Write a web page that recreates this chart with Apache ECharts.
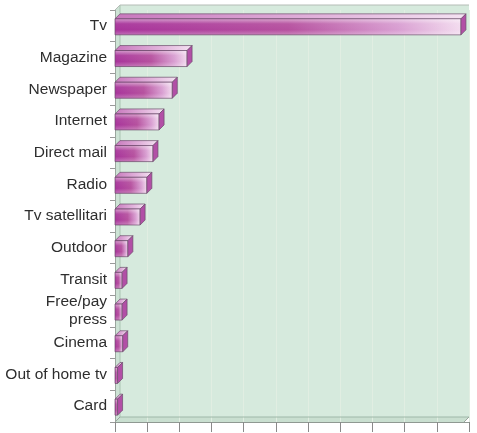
<!DOCTYPE html>
<html>
<head>
<meta charset="utf-8">
<script src="https://cdn.jsdelivr.net/npm/echarts@6/dist/echarts.min.js"></script>
<style>
html,body{margin:0;padding:0;background:#fff;}
#chart{width:477px;height:433px;}
</style>
</head>
<body>
<div id="chart"></div>
<script>
const categories = ['Tv','Magazine','Newspaper','Internet','Direct mail','Radio','Tv satellitari','Outdoor','Transit','Free/pay\npress','Cinema','Out of home tv','Card'];
const values = [10.75, 2.24, 1.78, 1.37, 1.18, 0.99, 0.78, 0.40, 0.22, 0.22, 0.24, 0.08, 0.08];
const axisMin = 0, axisMax = 11, axisInterval = 1;

const W = 477, H = 433;
const GL = 115, GR = 469, GT = 10, GB = 422, D = 5;

const chart = echarts.init(document.getElementById('chart'), null, {renderer: 'canvas'});

function renderBar(params, api) {
  const i = api.value(1);
  const s = api.coord([0, i]);
  const e = api.coord([api.value(0), i]);
  const x0 = s[0], x1 = e[0], c = s[1];
  const y0 = c - 7, h = 16;
  const stroke = '#6b4f6b';
  return {
    type: 'group',
    children: [
      {
        type: 'polygon',
        shape: {points: [[x0, y0], [x0 + D, y0 - D], [x1 + D, y0 - D], [x1, y0]]},
        style: {
          fill: new echarts.graphic.LinearGradient(0, 0, 1, 0, [
            {offset: 0, color: '#c878bd'},
            {offset: 0.6, color: '#e2b4dc'},
            {offset: 1, color: '#f4e2f2'}
          ]),
          stroke: stroke, lineWidth: 0.7
        }
      },
      {
        type: 'rect',
        shape: {x: x0, y: y0, width: x1 - x0, height: h},
        style: {
          fill: new echarts.graphic.LinearGradient(0, 0, 1, 0, [
            {offset: 0, color: '#a8349b'},
            {offset: 0.5, color: '#b6519f'},
            {offset: 0.82, color: '#d99fd2'},
            {offset: 1, color: '#f3dcef'}
          ]),
          stroke: stroke, lineWidth: 0.7
        }
      },
      {
        type: 'rect',
        shape: {x: x0 + 0.5, y: y0 + 0.5, width: Math.max(0, x1 - x0 - 1), height: h - 1},
        style: {
          fill: new echarts.graphic.LinearGradient(0, 0, 0, 1, [
            {offset: 0, color: 'rgba(255,255,255,0.45)'},
            {offset: 0.3, color: 'rgba(255,255,255,0.05)'},
            {offset: 0.7, color: 'rgba(255,255,255,0.0)'},
            {offset: 1, color: 'rgba(255,255,255,0.25)'}
          ])
        }
      },
      {
        type: 'polygon',
        shape: {points: [[x1, y0], [x1 + D, y0 - D], [x1 + D, y0 + h - D], [x1, y0 + h]]},
        style: {fill: '#b24fa6', stroke: stroke, lineWidth: 0.7}
      }
    ]
  };
}

const option = {
  backgroundColor: '#ffffff',
  animation: false,
  grid: {left: GL, right: W - GR, top: GT, bottom: H - GB, containLabel: false},
  graphic: [
    {type: 'polygon', z: -10, silent: true,
     shape: {points: [[GL, GB], [GL, GT], [GL + D, GT - D], [GR, GT - D], [GR, GB - D], [GR - D, GB]]},
     style: {fill: '#d6eadd'}},
    {type: 'polygon', z: -9, silent: true,
     shape: {points: [[GL, GT], [GL + D, GT - D], [GL + D, GB - D], [GL, GB]]},
     style: {fill: '#cde3d5'}},
    {type: 'polygon', z: -9, silent: true,
     shape: {points: [[GL, GB], [GL + D, GB - D], [GR, GB - D], [GR - D, GB]]},
     style: {fill: '#c9dfd0'}},
    {type: 'polyline', z: 5, silent: true,
     shape: {points: [[GL, GT], [GL + D, GT - D], [GR, GT - D]]},
     style: {stroke: '#b4bcb6', lineWidth: 1, fill: null}},
    {type: 'line', z: 1, silent: true,
     shape: {x1: GL + D, y1: GT - D, x2: GL + D, y2: GB - D},
     style: {stroke: '#a9c3b2', lineWidth: 1}},
    {type: 'line', z: 1, silent: true,
     shape: {x1: GL + D, y1: GB - D, x2: GR, y2: GB - D},
     style: {stroke: '#9fb8a8', lineWidth: 1}},
    {type: 'polyline', z: 5, silent: true,
     shape: {points: [[GL, GB], [GL + D, GB - D]]},
     style: {stroke: '#9aa69e', lineWidth: 1, fill: null}},
    {type: 'polyline', z: 5, silent: true,
     shape: {points: [[GR - D, GB], [GR, GB - D]]},
     style: {stroke: '#9aa69e', lineWidth: 1, fill: null}}
  ],
  xAxis: {
    type: 'value',
    min: axisMin, max: axisMax, interval: axisInterval,
    axisLine: {show: true, lineStyle: {color: '#8f9992', width: 1}},
    axisTick: {show: true, length: 10, lineStyle: {color: '#8a8a8a'}},
    axisLabel: {show: false},
    splitLine: {show: true, lineStyle: {color: '#e1eee2', width: 1}}
  },
  yAxis: {
    type: 'category',
    data: categories,
    inverse: true,
    axisLine: {show: true, lineStyle: {color: '#9aa69e', width: 1}},
    axisTick: {show: true, length: 5, lineStyle: {color: '#9a9a9a'}},
    axisLabel: {
      color: '#2e2e2e', fontSize: 15.5, fontFamily: 'Liberation Sans, Arial, sans-serif',
      margin: 8, lineHeight: 18
    },
    splitLine: {show: false}
  },
  series: [{
    type: 'custom',
    renderItem: renderBar,
    encode: {x: 0, y: 1},
    data: values.map((v, i) => [v, i]),
    z: 10
  }]
};
chart.setOption(option);
</script>
</body>
</html>
